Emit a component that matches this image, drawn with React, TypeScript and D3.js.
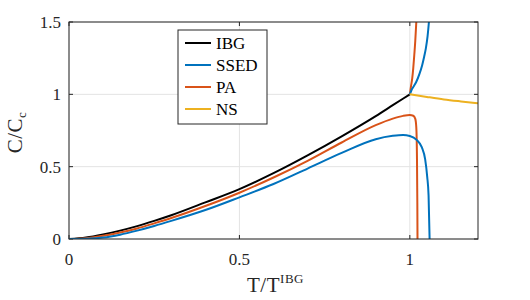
import React from 'react';
import * as d3 from 'd3';

// values (T/T^IBG, C/Cc)
const ibgT = [0, 0.05, 0.1, 0.15, 0.2, 0.25, 0.3, 0.4, 0.5, 0.6, 0.7, 0.8, 0.9, 0.95, 1.0];
const ibgC = [0, 0.011, 0.032, 0.058, 0.089, 0.125, 0.164, 0.253, 0.345, 0.455, 0.578, 0.71, 0.85, 0.925, 1.0];

const ssedT = [0, 0.05, 0.1, 0.15, 0.2, 0.25, 0.3, 0.4, 0.5, 0.6, 0.7, 0.8, 0.9, 0.95, 0.98, 1.0, 1.02, 1.035, 1.045, 1.051, 1.055, 1.058];
const ssedC = [0, 0.002, 0.01, 0.03, 0.058, 0.09, 0.125, 0.2, 0.288, 0.38, 0.487, 0.595, 0.69, 0.713, 0.719, 0.712, 0.685, 0.635, 0.55, 0.43, 0.3, 0];
const ssedUpT = [1.0, 1.005, 1.01, 1.019, 1.028, 1.036, 1.042, 1.047, 1.052, 1.056, 1.058];
const ssedUpC = [1.0, 1.03, 1.05, 1.087, 1.14, 1.2, 1.26, 1.318, 1.4, 1.5, 1.56];

const paT = [0, 0.05, 0.1, 0.15, 0.2, 0.25, 0.3, 0.4, 0.5, 0.6, 0.7, 0.8, 0.9, 0.95, 0.98, 1.0, 1.01, 1.016, 1.019, 1.021, 1.022, 1.0225];
const paC = [0, 0.006, 0.022, 0.045, 0.073, 0.108, 0.145, 0.228, 0.32, 0.425, 0.54, 0.667, 0.787, 0.832, 0.851, 0.857, 0.852, 0.83, 0.77, 0.55, 0.25, 0];
const paUpT = [1.0, 1.003, 1.007, 1.01, 1.013, 1.016, 1.019, 1.021];
const paUpC = [1.0, 1.05, 1.11, 1.18, 1.27, 1.37, 1.5, 1.6];

const nsT = [1.0, 1.05, 1.1, 1.15, 1.2];
const nsC = [1.0, 0.982, 0.965, 0.951, 0.938];

const xTicks = [0, 0.5, 1];
const xTickLabels = ['0', '0.5', '1'];
const yTicks = [0, 0.5, 1, 1.5];
const yTickLabels = ['0', '0.5', '1', '1.5'];

const legendNames = ['IBG', 'SSED', 'PA', 'NS'];
const colors = ['#000000', '#0072BD', '#D95319', '#EDB120'];

const font = 'Liberation Serif';

export default function App() {
  const W = 530;
  const H = 300;
  const m = { left: 69, right: 52, top: 22, bottom: 61 };

  const x = d3.scaleLinear().domain([0, 1.2]).range([m.left, W - m.right]);
  const y = d3.scaleLinear().domain([0, 1.5]).range([H - m.bottom, m.top]);

  const line = d3
    .line<[number, number]>()
    .x((d) => x(d[0]))
    .y((d) => y(d[1]))
    .curve(d3.curveMonotoneX);

  const zip = (a: number[], b: number[]) => a.map((t, i) => [t, b[i]] as [number, number]);

  const series = [
    { d: zip(ibgT, ibgC), c: colors[0] },
    { d: zip(paT, paC), c: colors[2] },
    { d: zip(paUpT, paUpC), c: colors[2] },
    { d: zip(ssedT, ssedC), c: colors[1] },
    { d: zip(ssedUpT, ssedUpC), c: colors[1] },
    { d: zip(nsT, nsC), c: colors[3] },
  ];

  const x0 = x(0), x1 = x(1.2), y0 = y(0), y1 = y(1.5);
  const axisColor = '#262626';
  const tl = 4;

  return (
    <svg width={W} height={H} fontFamily={font} style={{ position: 'absolute', left: 0, top: 0, background: '#fff' }}>
      <defs>
        <clipPath id="plot">
          <rect x={x0} y={y1} width={x1 - x0} height={y0 - y1} />
        </clipPath>
      </defs>
      {/* grid */}
      {xTicks.map((t) => (
        <line key={'gx' + t} x1={x(t)} x2={x(t)} y1={y0} y2={y1} stroke="#e3e3e3" strokeWidth={1} />
      ))}
      {yTicks.map((t) => (
        <line key={'gy' + t} x1={x0} x2={x1} y1={y(t)} y2={y(t)} stroke="#e3e3e3" strokeWidth={1} />
      ))}
      {/* ticks */}
      {xTicks.map((t) => (
        <g key={'tx' + t}>
          <line x1={x(t)} x2={x(t)} y1={y0} y2={y0 - tl} stroke={axisColor} />
          <line x1={x(t)} x2={x(t)} y1={y1} y2={y1 + tl} stroke={axisColor} />
        </g>
      ))}
      {yTicks.map((t) => (
        <g key={'ty' + t}>
          <line x1={x0} x2={x0 + tl} y1={y(t)} y2={y(t)} stroke={axisColor} />
          <line x1={x1} x2={x1 - tl} y1={y(t)} y2={y(t)} stroke={axisColor} />
        </g>
      ))}
      {/* curves */}
      <g clipPath="url(#plot)">
        {series.map((s, i) => (
          <path key={i} d={line(s.d) || ''} fill="none" stroke={s.c} strokeWidth={2} strokeLinejoin="round" />
        ))}
      </g>
      {/* box */}
      <rect x={x0} y={y1} width={x1 - x0} height={y0 - y1} fill="none" stroke={axisColor} strokeWidth={1} />
      {/* tick labels */}
      {xTicks.map((t, i) => (
        <text key={'lx' + t} x={x(t)} y={y0 + 26} textAnchor="middle" fontSize={17} fill="#262626">
          {xTickLabels[i]}
        </text>
      ))}
      {yTicks.map((t, i) => (
        <text key={'ly' + t} x={x0 - 8} y={y(t) + 6} textAnchor="end" fontSize={17} fill="#262626">
          {yTickLabels[i]}
        </text>
      ))}
      {/* axis titles */}
      <text x={(x0 + x1) / 2 + 2} y={292} textAnchor="middle" fontSize={21} fill="#262626" letterSpacing={0.5}>
        T/T<tspan dy={-9} fontSize={13}>IBG</tspan>
      </text>
      <text
        transform={`translate(22,${(y0 + y1) / 2 + 2}) rotate(-90)`}
        textAnchor="middle"
        fontSize={21}
        fill="#262626"
        letterSpacing={0.5}
      >
        C/C<tspan dy={4} fontSize={13}>c</tspan>
      </text>
      {/* legend */}
      <rect x={178} y={30} width={89} height={94} fill="#fff" stroke={axisColor} strokeWidth={1} />
      {legendNames.map((n, i) => (
        <g key={n}>
          <line x1={185} x2={211} y1={43 + i * 22} y2={43 + i * 22} stroke={colors[i]} strokeWidth={2} />
          <text x={216} y={43 + i * 22 + 6} fontSize={17} fill="#000">
            {n}
          </text>
        </g>
      ))}
    </svg>
  );
}
